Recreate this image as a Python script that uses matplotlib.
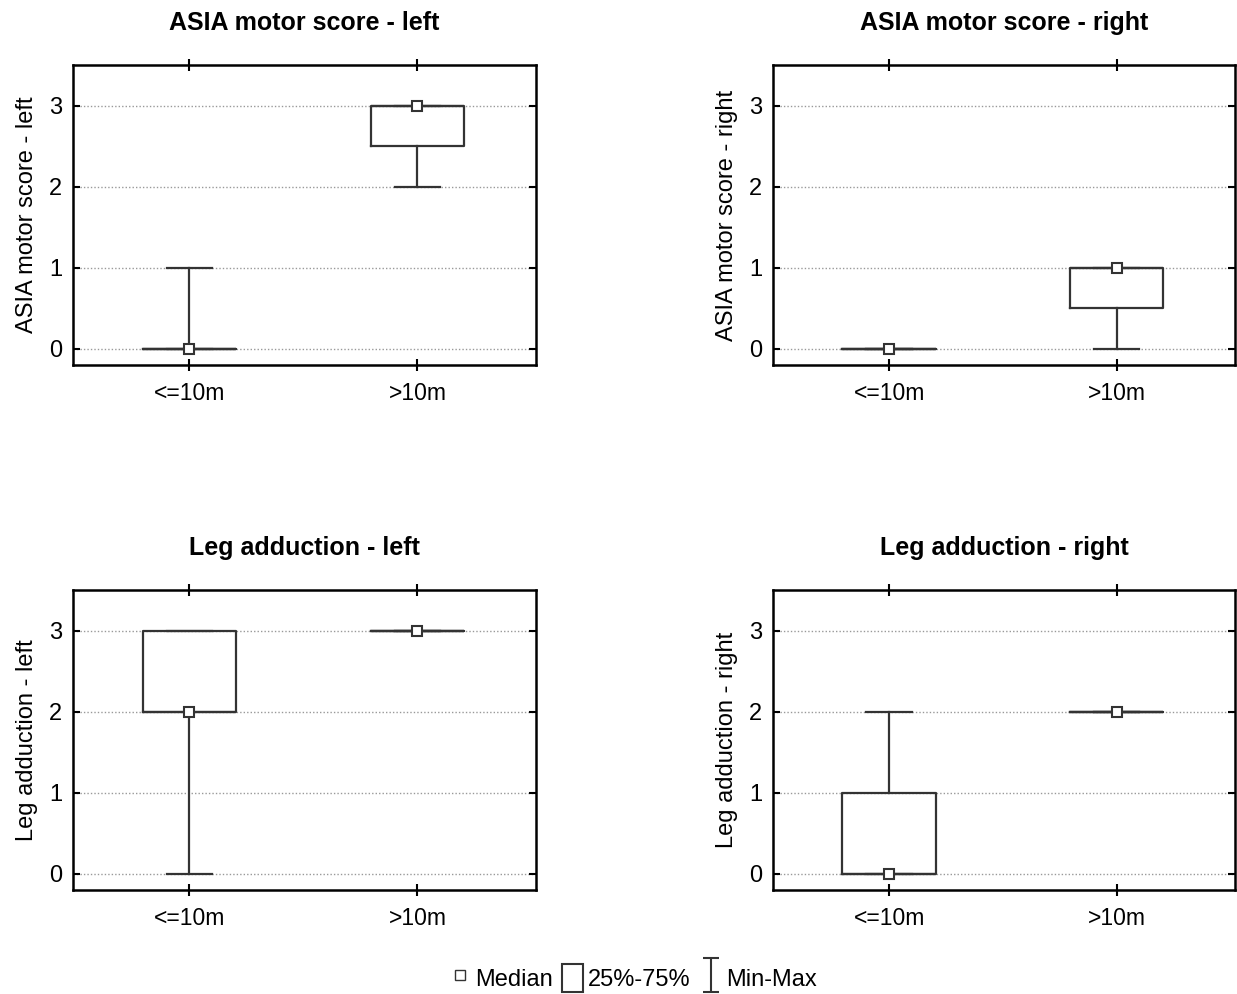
import matplotlib
matplotlib.use("Agg")
import matplotlib.pyplot as plt
from matplotlib.lines import Line2D
from matplotlib.patches import Rectangle
from matplotlib.path import Path

plt.rcParams['font.family'] = ['Liberation Sans', 'DejaVu Sans']

# Datos: categorías y resumen (min, q1, mediana, q3, max) por panel
groups = ["<=10m", ">10m"]
titles = ["ASIA motor score - left", "ASIA motor score - right",
          "Leg adduction - left", "Leg adduction - right"]
ylabels = titles

asia_left = [(0, 0, 0, 0, 1), (2, 2.5, 3, 3, 3)]
asia_right = [(0, 0, 0, 0, 0), (0, 0.5, 1, 1, 1)]
leg_left = [(0, 2, 2, 3, 3), (3, 3, 3, 3, 3)]
leg_right = [(0, 0, 0, 1, 2), (2, 2, 2, 2, 2)]
panels = [asia_left, asia_right, leg_left, leg_right]

W, H = 1237, 994
fig = plt.figure(figsize=(W / 100, H / 100), dpi=100)

# posiciones de los ejes en pixeles (izq, arriba, der, abajo)
boxes = [(73, 65, 536, 365), (773, 65, 1235, 365),
         (73, 590, 536, 890), (773, 590, 1235, 890)]

line_col = "#333333"

for k, (l, t, r, b) in enumerate(boxes):
    ax = fig.add_axes([l / W, (H - b) / H, (r - l) / W, (b - t) / H])
    stats = []
    for g, (mn, q1, med, q3, mx) in zip(groups, panels[k]):
        stats.append({"label": g, "whislo": mn, "q1": q1, "med": med,
                      "q3": q3, "whishi": mx, "mean": med, "fliers": []})
    ax.bxp(stats, positions=[0, 1], widths=0.41, capwidths=0.2,
           showmeans=True, meanline=False, showfliers=False,
           boxprops=dict(color=line_col, linewidth=1.6),
           whiskerprops=dict(color=line_col, linewidth=1.6),
           capprops=dict(color=line_col, linewidth=1.6),
           medianprops=dict(color=line_col, linewidth=1.6),
           meanprops=dict(marker="s", markersize=7.5, markerfacecolor="white",
                          markeredgecolor=line_col, markeredgewidth=1.5),
           zorder=3)
    ax.set_xlim(-0.51, 1.52)
    ax.set_ylim(-0.2, 3.5)
    ax.set_yticks([0, 1, 2, 3])
    ax.set_xticks([0, 1])
    ax.set_xticklabels(groups)
    ax.yaxis.grid(True, linestyle=(0, (1, 1.5)), color="#999999", linewidth=1)
    ax.set_axisbelow(True)
    ax.tick_params(axis="y", labelsize=17, direction="in", right=True,
                   length=5, width=1.5, pad=8)
    ax.tick_params(axis="x", labelsize=16.5, direction="inout", top=True,
                   length=8, width=1.5, pad=8)
    for s in ax.spines.values():
        s.set_linewidth(1.8)
    ax.set_title(titles[k], fontsize=18, fontweight="bold", pad=25)
    ax.set_ylabel(ylabels[k], fontsize=17, labelpad=8)

# Leyenda
ibeam = Path([(-0.5, 1), (0.5, 1), (0, 1), (0, -1), (-0.5, -1), (0.5, -1)],
             [Path.MOVETO, Path.LINETO, Path.MOVETO, Path.LINETO,
              Path.MOVETO, Path.LINETO])
handles = [
    Line2D([], [], marker="s", linestyle="none", markersize=7,
           markerfacecolor="white", markeredgecolor=line_col),
    Rectangle((0, 0), 1, 1, facecolor="white", edgecolor=line_col,
              linewidth=1.5),
    Line2D([], [], marker=ibeam, linestyle="none", markersize=24,
           markerfacecolor="none", markeredgecolor=line_col,
           markeredgewidth=1.5),
]
fig.legend(handles, ["Median", "25%-75%", "Min-Max"], loc="center",
           bbox_to_anchor=(633 / W, (H - 978) / H), ncol=3, frameon=False,
           fontsize=17, handlelength=0.9, handleheight=1.4,
           handletextpad=0.2, columnspacing=0.4)

fig.savefig("out.png", dpi=100)
